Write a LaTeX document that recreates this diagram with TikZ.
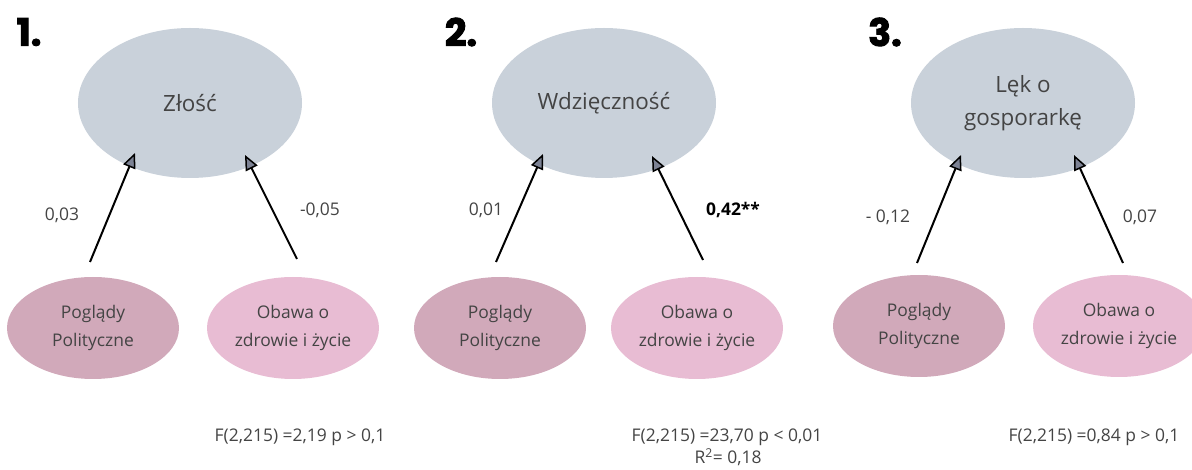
\documentclass[tikz,border=0pt]{standalone}
\usepackage{fontspec}
\setmainfont{Open Sans}
\newfontfamily\titlefont[BoldFeatures={FakeBold=2.5}]{Poppins}
\usetikzlibrary{shapes.geometric,arrows.meta}
\definecolor{topc}{HTML}{C9D1DA}
\definecolor{polc}{HTML}{D1A9BA}
\definecolor{obac}{HTML}{E8BCD3}
\definecolor{txt}{HTML}{444444}
\definecolor{tipc}{HTML}{7C8294}
\tikzset{
  topell/.style={ellipse, fill=topc, minimum width=224bp, minimum height=150bp, inner sep=0pt, text=txt, font=\fontsize{22.5}{33}\selectfont, align=center},
  polell/.style={ellipse, fill=polc, minimum width=172bp, minimum height=102bp, inner sep=0pt, text=txt, font=\fontsize{17.5}{28}\selectfont, align=center},
  obaell/.style={ellipse, fill=obac, minimum width=172bp, minimum height=102bp, inner sep=0pt, text=txt, font=\fontsize{17.5}{28}\selectfont, align=center},
  arr/.style={line width=2bp, draw=black, -{Triangle[length=15bp, width=13bp, fill=tipc, line width=1.5bp]}},
  coef/.style={text=txt, font=\fontsize{17.5}{20}\selectfont},
  stat/.style={text=txt, font=\fontsize{17.5}{19}\selectfont, align=center},
  title/.style={text=black, font=\titlefont\bfseries\fontsize{38}{38}\selectfont}
}
\begin{document}
\begin{tikzpicture}[x=1bp,y=-1bp]
\useasboundingbox (0,0) rectangle (1192,470);
\clip (0,0) rectangle (1192,470);
% panel 1
\node[title] (t1) at (29,32) {1.};
\node[topell] (z1) at (190,103) {Złość};
\node[polell] (p1) at (93,328) {\raisebox{0pt}{Poglądy}\\Polityczne};
\node[obaell] (o1) at (293,328) {Obawa o\\zdrowie i życie};
\coordinate (a1s) at (90,262); \coordinate (a1e) at (135,153);
\coordinate (b1s) at (297,259); \coordinate (b1e) at (245,155);
\draw[arr] (a1s) -- (a1e);
\draw[arr] (b1s) -- (b1e);
\node[coef] (c1a) at (62,215) {0,03};
\node[coef] (c1b) at (320,210) {-0,05};
\node[stat] (s1) at (300,437) {F(2,215) =2,19 p > 0,1};
% panel 2
\node[title] (t2) at (461,32) {2.};
\node[topell] (z2) at (604,103) {Wdzięczność};
\node[polell] (p2) at (500,328) {Poglądy\\Polityczne};
\node[obaell] (o2) at (697,328) {Obawa o\\zdrowie i życie};
\coordinate (a2s) at (496,262); \coordinate (a2e) at (543,154);
\coordinate (b2s) at (703,260); \coordinate (b2e) at (652,156);
\draw[arr] (a2s) -- (a2e);
\draw[arr] (b2s) -- (b2e);
\node[coef] (c2a) at (486,210) {0,01};
\node[coef, text=black, font=\fontsize{17.5}{20}\selectfont\bfseries] (c2b) at (733,210) {0,42**};
\node[stat] (s2) at (727,437) {F(2,215) =23,70 p < 0,01};
\node[stat] (r2) at (728,457) {R\textsuperscript{2}= 0,18};
% panel 3
\node[title] (t3) at (885,32) {3.};
\node[topell] (z3) at (1023,103) {Lęk o\\gosporarkę};
\node[polell] (p3) at (919,326) {Poglądy\\Polityczne};
\node[obaell] (o3) at (1119,326) {Obawa o\\zdrowie i życie};
\coordinate (a3s) at (917,263); \coordinate (a3e) at (961,155);
\coordinate (b3s) at (1123,263); \coordinate (b3e) at (1074,155);
\draw[arr] (a3s) -- (a3e);
\draw[arr] (b3s) -- (b3e);
\node[coef] (c3a) at (888,217) {- 0,12};
\node[coef] (c3b) at (1140,217) {0,07};
\node[stat] (s3) at (1094,437) {F(2,215) =0,84 p > 0,1};
\end{tikzpicture}
\end{document}
